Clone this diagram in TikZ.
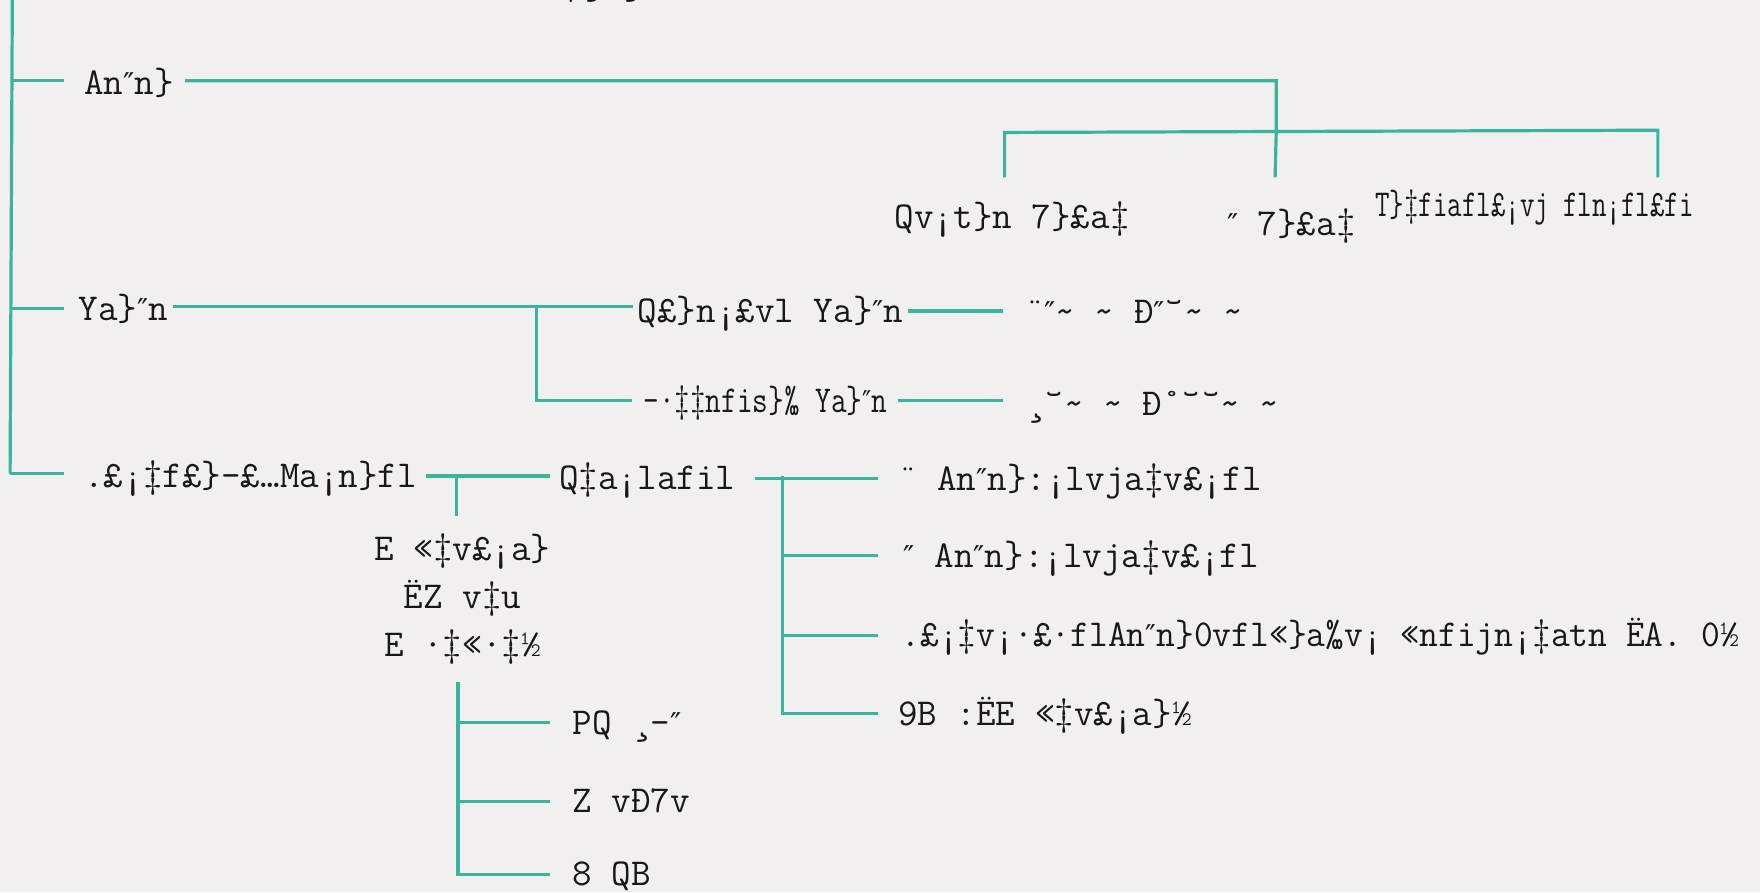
\documentclass[tikz,border=0pt]{standalone}
\usepackage{fontspec}
\usepackage{graphicx}
\newfontfamily\dqfont{DejaVu Sans}
\newcommand{\DQ}{{\dqfont\fontsize{30}{40}\selectfont ″}}
\definecolor{bg}{RGB}{241,239,240}
\definecolor{lineteal}{RGB}{58,181,157}
\definecolor{ink}{RGB}{24,24,24}
\tikzset{
  ln/.style={draw=lineteal, line width=3.2pt},
  lbl/.style={anchor=west, inner sep=0pt, text height=25pt, text depth=2pt, text=ink,
    font=\fontsize{38}{48}\selectfont\ttfamily},
  stack/.style={anchor=center, inner sep=0pt, text=ink, align=center,
    font=\fontsize{38}{48}\selectfont\ttfamily},
}
\begin{document}
\begin{tikzpicture}[x=1.1224pt,y=-1.1224pt]
\useasboundingbox (0,0) rectangle (1568,795);
\fill[bg] (0,0) rectangle (1568,795);
% junctions
\coordinate (top) at (11,-5);
\coordinate (j1) at (11,72);
\coordinate (j2) at (10,275);
\coordinate (j3) at (9,422);
\coordinate (k1) at (1137,72);
\coordinate (k2) at (1137,117);
\coordinate (bL) at (895,118);
\coordinate (bR) at (1477,116);
\coordinate (b1t) at (895,158);
\coordinate (b2t) at (1136,158);
\coordinate (b3t) at (1477,158);
\coordinate (m1) at (478,273);
\coordinate (n1) at (407,424);
\coordinate (p0) at (697,424);
\coordinate (q1) at (408,608);
% labels
\node[lbl, anchor=base west] (cut) at (500,-5) {‚¸\}¸};
\node[lbl] (a1) at (75,74) {An\DQ n\}};
\node[lbl] (b1) at (797,193) {Qv¡t\}n 7\}£a‡};
\node[lbl] (b2) at (1093,200) {\DQ{} 7\}£a‡};
\node[lbl] (b3) at (1225,183) {\scalebox{0.74}[1]{T\}‡fiafl£¡vj fln¡fl£fi}};
\node[lbl] (a2) at (70,275) {Ya\}\DQ n};
\node[lbl] (c1) at (568,277) {Q£\}n¡£vl Ya\}\DQ n};
\node[lbl] (c2) at (573,357) {\scalebox{0.8}[1]{-·‡‡nfis\}‰ Ya\}\DQ n}};
\node[lbl] (d1) at (913,278) {¨\DQ\~{} \~{} Ð\DQ˘\~{} \~{}};
\node[lbl] (d2) at (913,360) {¸˘\~{} \~{} Ð˚˘˘\~{} \~{}};
\node[lbl] (a3) at (75,424) {.£¡‡f£\}-£…Ma¡n\}fl};
\node[lbl] (e) at (498,426) {Q‡a¡lafil};
\node[lbl] (f1) at (800,427) {¨ An\DQ n\}:¡lvja‡v£¡fl};
\node[lbl] (f2) at (805,495) {\DQ{} An\DQ n\}:¡lvja‡v£¡fl};
\node[lbl] (f3) at (803,566) {\scalebox{0.96}[1]{.£¡‡v¡·£·flAn\DQ n\}0vfl«\}a‰v¡ «nfijn¡‡atn ËA. 0½}};
\node[lbl] (f4) at (800,636) {9B :ËE «‡v£¡a\}½};
\node[stack] (g) at (412,534) {E «‡v£¡a\}\\ËZ v‡u\\E ·‡«·‡½};
\node[lbl] (h1) at (510,644) {PQ ¸—\DQ};
\node[lbl] (h2) at (510,714) {Z vÐ7v};
\node[lbl] (h3) at (510,779) {8 QB};
% trunk and first branch
\draw[ln] (top) -- (j3);
\draw[ln, shorten >=20pt] (j1) -- (j1 -| a1.west);
\draw[ln, shorten <=11pt] (a1.east |- k1) -- (k1) -- (k2) -- (b2t);
\draw[ln] (b1t) -- (bL) -- (bR) -- (b3t);
% second branch
\draw[ln, shorten >=15pt] (j2) -- (j2 -| a2.west);
\draw[ln, shorten <=5pt, shorten >=5pt] (a2.east |- m1) -- (m1 -| c1.west);
\draw[ln, shorten >=11pt] (m1) |- (c2.west);
\draw[ln, shorten <=4pt, shorten >=22pt] (c1.east) -- (c1.east -| d1.west);
\draw[ln, shorten <=11pt, shorten >=22pt] (c2.east) -- (c2.east -| d2.west);
% third branch
\draw[ln, shorten >=20pt] (j3) -- (j3 -| a3.west);
\draw[ln, shorten <=9pt, shorten >=9pt] (a3.east) -- (a3.east -| e.west);
\draw[ln] (n1) -- (n1 |- 0,460);
\draw[ln, shorten <=19pt, shorten >=20pt] (e.east) -- (e.east -| f1.west);
\draw[ln, shorten >=20pt] (p0) |- (f4.west);
\draw[ln, shorten >=26pt] (p0 |- f2.west) -- (f2.west);
\draw[ln, shorten >=23pt] (p0 |- f3.west) -- (f3.west);
\draw[ln, shorten >=22pt] (q1) |- (h3.west);
\draw[ln, shorten >=22pt] (q1 |- h1.west) -- (h1.west);
\draw[ln, shorten >=22pt] (q1 |- h2.west) -- (h2.west);
\end{tikzpicture}
\end{document}
